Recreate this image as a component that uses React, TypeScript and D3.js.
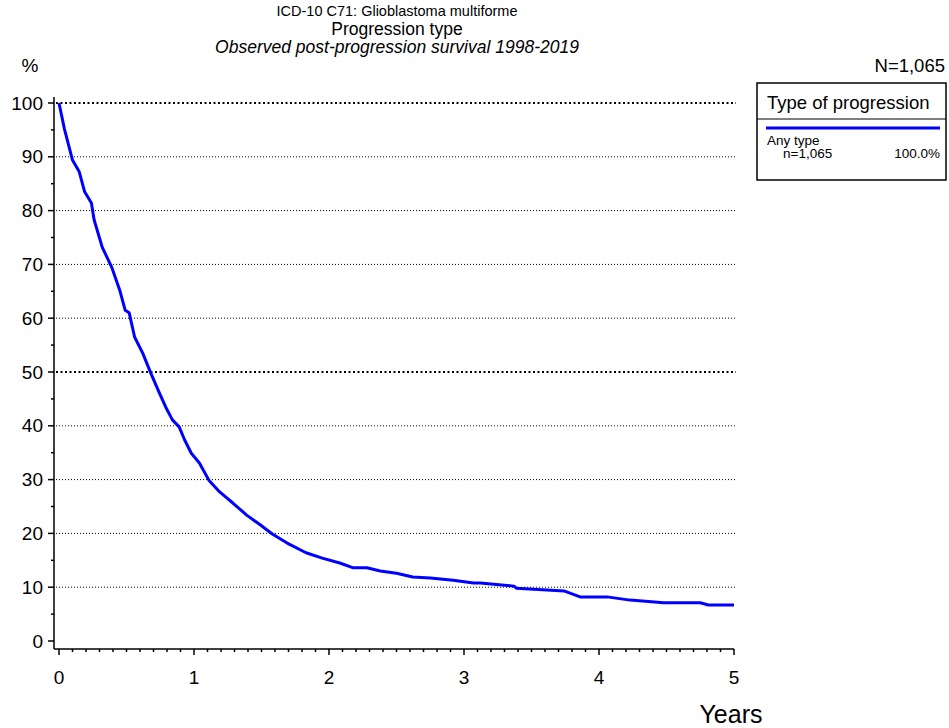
import * as d3 from 'd3';

const years = [
  0, 0.04, 0.1, 0.15, 0.19, 0.24, 0.26, 0.32, 0.39, 0.45, 0.49, 0.52, 0.56, 0.62, 0.68, 0.74, 0.79,
  0.84, 0.89, 0.93, 0.98, 1.04, 1.11, 1.19, 1.29, 1.39, 1.49, 1.58, 1.69, 1.83, 1.95, 2.08, 2.18,
  2.28, 2.38, 2.5, 2.62, 2.75, 2.92, 3.07, 3.12, 3.37, 3.39, 3.74, 3.86, 4.06, 4.23, 4.48, 4.75,
  4.81, 5.0,
];
const survival = [
  100, 95.2, 89.4, 87.2, 83.5, 81.4, 78.3, 73.2, 69.5, 65.2, 61.5, 61, 56.5, 53.5, 49.8, 46.3, 43.5,
  41.1, 39.8, 37.4, 34.9, 33.1, 29.9, 27.7, 25.6, 23.4, 21.6, 19.9, 18.2, 16.4, 15.4, 14.5, 13.6,
  13.6, 13.0, 12.6, 11.9, 11.7, 11.3, 10.8, 10.8, 10.2, 9.8, 9.3, 8.2, 8.2, 7.6, 7.1, 7.1, 6.7, 6.7,
];
const yTicks = [0, 10, 20, 30, 40, 50, 60, 70, 80, 90, 100];
const xTicks = [0, 1, 2, 3, 4, 5];
const titles = ['ICD-10 C71: Glioblastoma multiforme', 'Progression type', 'Observed post-progression survival 1998-2019'];
const legendTitle = 'Type of progression';
const seriesName = 'Any type';
const seriesN = 'n=1,065';
const seriesPct = '100.0%';
const totalN = 'N=1,065';

const font = '"Liberation Sans", Arial, sans-serif';

export default function App() {
  const width = 949;
  const height = 728;
  const axisX = 54;
  const axisY = 649;

  const x = d3.scaleLinear().domain([0, 5]).range([59, 734]);
  const y = d3.scaleLinear().domain([0, 100]).range([641, 103]);

  const pts = years.map((t, i) => [t, survival[i]] as [number, number]);
  const line = d3
    .line<[number, number]>()
    .x((d) => x(d[0]))
    .y((d) => y(d[1]));

  // minor ticks: every 0.1 year on x, every 5% on y
  const minorX = d3.range(0, 50).map((i) => i / 10).filter((v) => Math.abs(v - Math.round(v)) > 0.01);
  const minorY = d3.range(5, 100, 10);

  return (
    <svg width={width} height={height} style={{ position: 'absolute', left: 0, top: 0, fontFamily: font }}>
      <rect width={width} height={height} fill="#fff" />

      {/* titles */}
      <text x={397} y={11} textAnchor="middle" dominantBaseline="central" fontSize={14.5}>
        {titles[0]}
      </text>
      <text x={397} y={28.5} textAnchor="middle" dominantBaseline="central" fontSize={17.5}>
        {titles[1]}
      </text>
      <text x={397} y={47} textAnchor="middle" dominantBaseline="central" fontSize={17.5} fontStyle="italic">
        {titles[2]}
      </text>
      <text x={30} y={65} textAnchor="middle" dominantBaseline="central" fontSize={19}>
        %
      </text>
      <text x={945} y={65} textAnchor="end" dominantBaseline="central" fontSize={18.5}>
        {totalN}
      </text>

      {/* grid */}
      {yTicks
        .filter((v) => v > 0)
        .map((v) => {
          const heavy = v === 100 || v === 50;
          return (
            <line
              key={'g' + v}
              x1={axisX + 2}
              x2={736}
              y1={y(v)}
              y2={y(v)}
              stroke="#000"
              strokeWidth={heavy ? 2 : 1}
              strokeDasharray={heavy ? '2,2.5' : '1,2'}
            />
          );
        })}

      {/* y axis */}
      <line x1={axisX} x2={axisX} y1={97} y2={axisY} stroke="#000" strokeWidth={1.5} />
      {yTicks.map((v) => (
        <g key={'y' + v}>
          <line x1={axisX - 6} x2={axisX} y1={y(v)} y2={y(v)} stroke="#000" strokeWidth={1.5} />
          <text x={43} y={y(v)} textAnchor="end" dominantBaseline="central" fontSize={19}>
            {v}
          </text>
        </g>
      ))}
      {minorY.map((v) => (
        <line key={'my' + v} x1={axisX - 3} x2={axisX} y1={y(v)} y2={y(v)} stroke="#000" strokeWidth={1.5} />
      ))}

      {/* x axis */}
      <line x1={axisX} x2={x(5)} y1={axisY} y2={axisY} stroke="#000" strokeWidth={1.5} />
      {xTicks.map((v) => (
        <g key={'x' + v}>
          <line x1={x(v)} x2={x(v)} y1={axisY} y2={axisY + 6} stroke="#000" strokeWidth={1.5} />
          <text x={x(v)} y={677} textAnchor="middle" dominantBaseline="central" fontSize={19}>
            {v}
          </text>
        </g>
      ))}
      {minorX.map((v) => (
        <line key={'mx' + v} x1={x(v)} x2={x(v)} y1={axisY} y2={axisY + 3} stroke="#000" strokeWidth={1.5} />
      ))}
      <text x={731} y={714} textAnchor="middle" dominantBaseline="central" fontSize={25}>
        Years
      </text>

      {/* survival curve */}
      <path d={line(pts) || ''} fill="none" stroke="#0000ff" strokeWidth={3} strokeLinejoin="round" />

      {/* legend */}
      <rect x={757} y={83} width={189} height={97} fill="#fff" stroke="#000" strokeWidth={1.5} />
      <line x1={757} x2={946} y1={119} y2={119} stroke="#000" strokeWidth={1} />
      <text x={767} y={102} dominantBaseline="central" fontSize={18.5}>
        {legendTitle}
      </text>
      <line x1={766} x2={940} y1={128} y2={128} stroke="#0000ff" strokeWidth={3} />
      <text x={767} y={140} dominantBaseline="central" fontSize={13.5}>
        {seriesName}
      </text>
      <text x={783} y={153} dominantBaseline="central" fontSize={13.5}>
        {seriesN}
      </text>
      <text x={940} y={153} textAnchor="end" dominantBaseline="central" fontSize={13.5}>
        {seriesPct}
      </text>
    </svg>
  );
}
